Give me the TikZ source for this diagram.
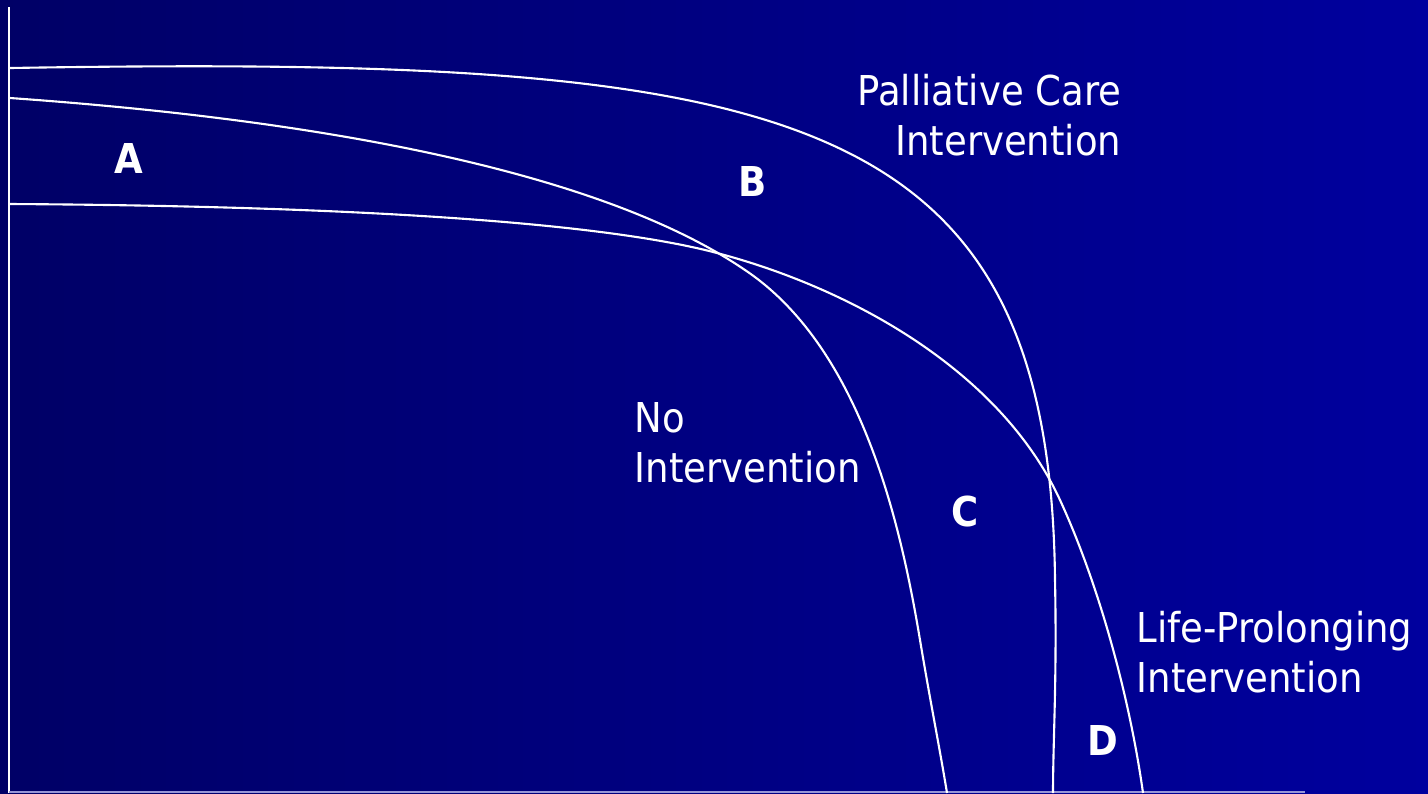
\documentclass[tikz,border=0pt]{standalone}
\usepackage{fontspec}
\setmainfont{DejaVu Sans Condensed}
\usepackage{tikz}
\usetikzlibrary{positioning,calc}

\definecolor{navyL}{RGB}{0,0,102}
\definecolor{navyR}{RGB}{0,0,158}
\definecolor{axisgrey}{RGB}{150,150,215}

\begin{document}
\begin{tikzpicture}[x=0.01cm, y=-0.01cm,
    curve/.style={white, line width=0.6pt},
    lbl/.style={white, inner sep=0pt, font=\fontsize{11.7pt}{14.2pt}\selectfont},
    letter/.style={white, inner sep=0pt, font=\fontsize{11.7pt}{14.2pt}\selectfont\bfseries}]
    \fill[left color=navyL, right color=navyR] (0,0) rectangle (1428,793);
    \useasboundingbox (0,0) rectangle (1428,793);

    % axes
    \coordinate (top) at (9,7);
    \coordinate (origin) at (9,793);
    \coordinate (xend) at (1305,792);
    \draw[white, line width=0.6pt] (top) -- (origin);
    \draw[axisgrey, line width=0.6pt] (9,792) -- (xend);

    % palliative care
    \draw[curve] (10,68) .. controls (790,55) and (1050,105) .. (1055,580)
        .. controls (1057,680) and (1053,740) .. (1053,793);
    % no intervention
    \draw[curve] (10,98) .. controls (350,122) and (610,178) .. (745,270)
        .. controls (860,347) and (900,520) .. (920,640)
        .. controls (930,700) and (940,750) .. (947,793);
    % life-prolonging
    \draw[curve] (10,204) .. controls (350,206) and (600,222) .. (717,253)
        .. controls (850,288) and (1000,370) .. (1060,500)
        .. controls (1100,587) and (1130,700) .. (1143,793);

    \node[lbl, align=right, anchor=north east] (palliative) at (1122,74) {Palliative Care\\Intervention};
    \node[lbl, align=left, anchor=north west] (nointerv) at (634,402) {No\\Intervention};
    \node[lbl, align=left, anchor=north west] (prolong) at (1136,611) {Life-Prolonging\\Intervention};

    \node[letter] (A) at (129,158) {A};
    \node[letter] (B) at (753,181) {B};
    \node[letter] (C) at (965,512) {C};
    \node[letter] (D) at (1103,740) {D};
\end{tikzpicture}
\end{document}
